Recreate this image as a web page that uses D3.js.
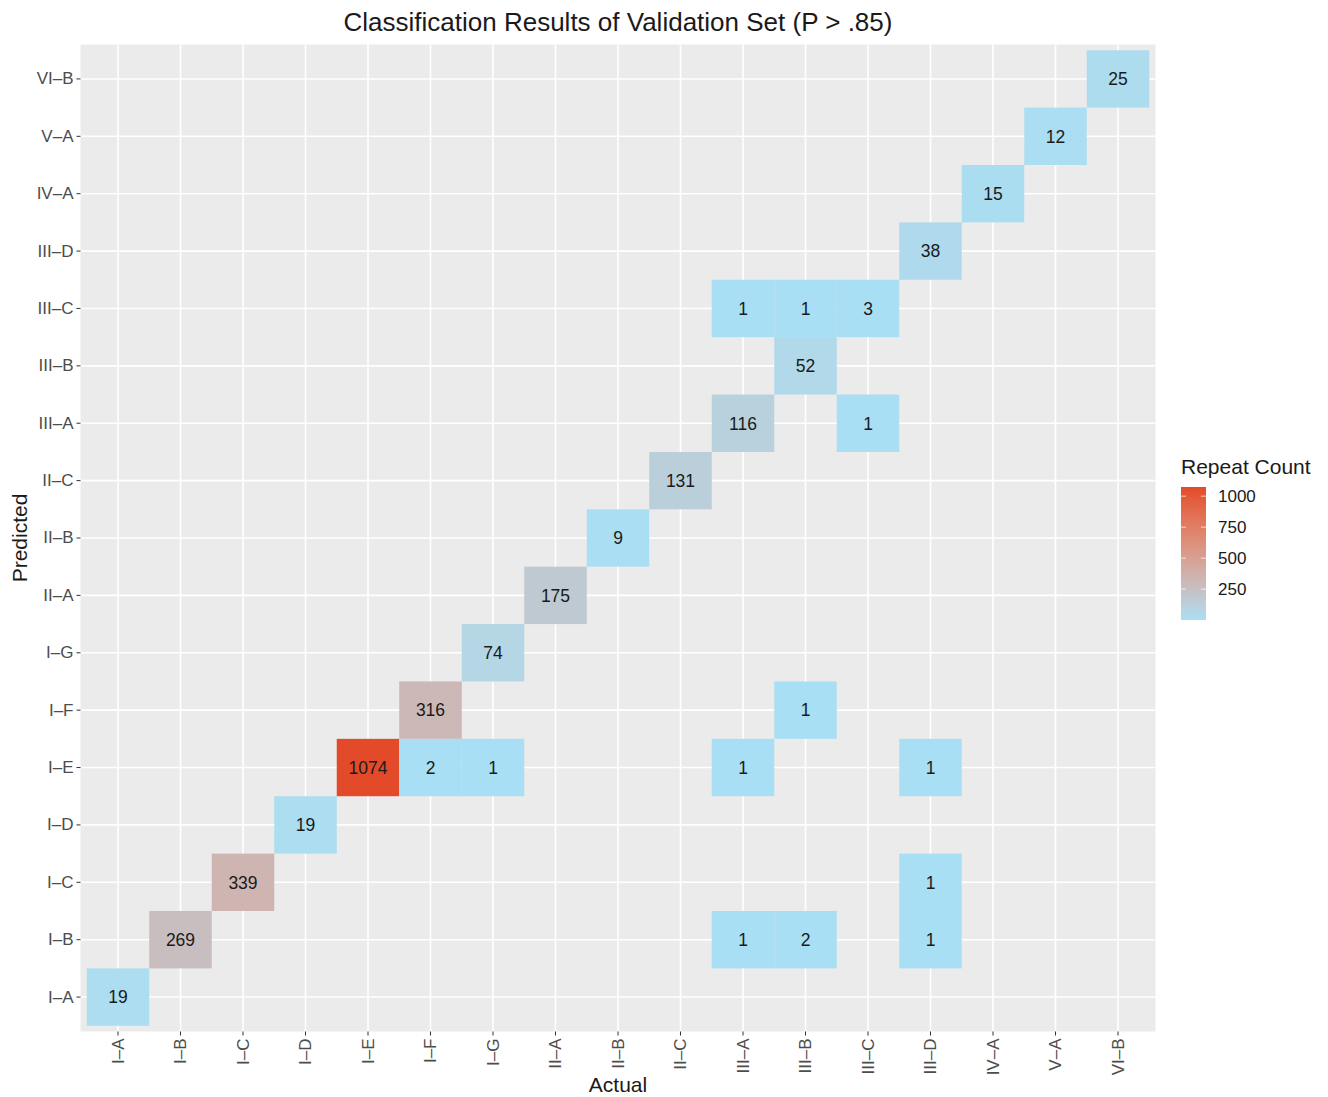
<!DOCTYPE html>
<html>
<head>
<meta charset="utf-8">
<script src="https://cdn.jsdelivr.net/npm/d3@7"></script>
<style>
  body { margin: 0; background: #fff; }
  text { font-family: "Liberation Sans", Arial, sans-serif; }
</style>
</head>
<body>
<div id="chart"></div>
<script>
const categories = ['I–A', 'I–B', 'I–C', 'I–D', 'I–E', 'I–F', 'I–G', 'II–A', 'II–B', 'II–C',
  'III–A', 'III–B', 'III–C', 'III–D', 'IV–A', 'V–A', 'VI–B'];

// each tile: actual, predicted, count
const actual = ['I–A', 'I–B', 'I–C', 'I–D', 'I–E', 'I–F', 'I–G', 'III–A', 'III–D', 'I–F', 'III–B', 'I–G',
  'II–A', 'II–B', 'II–C', 'III–A', 'III–C', 'III–B', 'III–A', 'III–B', 'III–C', 'III–D', 'IV–A', 'V–A', 'VI–B',
  'III–D', 'III–A', 'III–B', 'III–D'];
const predicted = ['I–A', 'I–B', 'I–C', 'I–D', 'I–E', 'I–E', 'I–E', 'I–E', 'I–E', 'I–F', 'I–F', 'I–G',
  'II–A', 'II–B', 'II–C', 'III–A', 'III–A', 'III–B', 'III–C', 'III–C', 'III–C', 'III–D', 'IV–A', 'V–A', 'VI–B',
  'I–C', 'I–B', 'I–B', 'I–B'];
const counts = [19, 269, 339, 19, 1074, 2, 1, 1, 1, 316, 1, 74,
  175, 9, 131, 116, 1, 52, 1, 1, 3, 38, 15, 12, 25,
  1, 1, 2, 1];
const legendTicks = [250, 500, 750, 1000];

const tiles = counts.map((c, i) => ({ x: actual[i], y: predicted[i], n: c }));

const width = 1328, height = 1097;
const panel = { left: 80.5, right: 1155.5, top: 44.5, bottom: 1031.5 };

const svg = d3.select('#chart').append('svg')
  .attr('width', width)
  .attr('height', height);

// ggplot style discrete scale: 0.6 unit padding on each side
const xScale = d3.scaleBand()
  .domain(categories)
  .range([panel.left, panel.right])
  .paddingInner(0)
  .paddingOuter(0.1);
const yScale = d3.scaleBand()
  .domain(categories)
  .range([panel.bottom, panel.top])
  .paddingInner(0)
  .paddingOuter(0.1);

const extent = d3.extent(counts);
const color = d3.scaleLinear()
  .domain(extent)
  .range(['#a9dff4', '#e34a2a'])
  .interpolate(d3.interpolateLab);

// panel background
svg.append('rect')
  .attr('x', panel.left)
  .attr('y', panel.top)
  .attr('width', panel.right - panel.left)
  .attr('height', panel.bottom - panel.top)
  .attr('fill', '#ebebeb');

const xc = d => xScale(d) + xScale.bandwidth() / 2;
const yc = d => yScale(d) + yScale.bandwidth() / 2;

// grid lines
svg.append('g').selectAll('line')
  .data(categories).join('line')
  .attr('x1', xc).attr('x2', xc)
  .attr('y1', panel.top).attr('y2', panel.bottom)
  .attr('stroke', '#fff').attr('stroke-width', 1.6);
svg.append('g').selectAll('line')
  .data(categories).join('line')
  .attr('y1', yc).attr('y2', yc)
  .attr('x1', panel.left).attr('x2', panel.right)
  .attr('stroke', '#fff').attr('stroke-width', 1.6);

// tiles
svg.append('g').selectAll('rect')
  .data(tiles).join('rect')
  .attr('x', d => xScale(d.x))
  .attr('y', d => yScale(d.y))
  .attr('width', xScale.bandwidth())
  .attr('height', yScale.bandwidth())
  .attr('fill', d => color(d.n));

svg.append('g').selectAll('text')
  .data(tiles).join('text')
  .attr('x', d => xc(d.x))
  .attr('y', d => yc(d.y))
  .attr('dy', '0.36em')
  .attr('text-anchor', 'middle')
  .attr('font-size', 17.5)
  .attr('fill', '#1a1a1a')
  .text(d => d.n);

// axes
const xAxis = svg.append('g')
  .attr('transform', `translate(0,${panel.bottom})`)
  .call(d3.axisBottom(xScale).tickSize(4).tickPadding(3));
xAxis.selectAll('text')
  .attr('transform', 'rotate(-90)')
  .attr('text-anchor', 'end')
  .attr('x', -7)
  .attr('y', 0)
  .attr('dy', '0.35em');

const yAxis = svg.append('g')
  .attr('transform', `translate(${panel.left},0)`)
  .call(d3.axisLeft(yScale).tickSize(4).tickPadding(3));

[xAxis, yAxis].forEach(ax => {
  ax.select('.domain').remove();
  ax.selectAll('.tick line').attr('stroke', '#333').attr('stroke-width', 1);
  ax.selectAll('.tick text')
    .attr('font-size', 17)
    .attr('fill', '#4d4d4d')
    .style('font-family', '"Liberation Sans", Arial, sans-serif');
});

// titles
svg.append('text')
  .attr('x', (panel.left + panel.right) / 2)
  .attr('y', 31)
  .attr('text-anchor', 'middle')
  .attr('font-size', 26)
  .attr('fill', '#1a1a1a')
  .text('Classification Results of Validation Set (P > .85)');

svg.append('text')
  .attr('x', (panel.left + panel.right) / 2)
  .attr('y', 1092)
  .attr('text-anchor', 'middle')
  .attr('font-size', 21)
  .attr('fill', '#1a1a1a')
  .text('Actual');

svg.append('text')
  .attr('transform', `translate(27,${(panel.top + panel.bottom) / 2}) rotate(-90)`)
  .attr('text-anchor', 'middle')
  .attr('font-size', 21)
  .attr('fill', '#1a1a1a')
  .text('Predicted');

// legend
const legend = { x: 1181, top: 487, bottom: 620, w: 25 };
const lScale = d3.scaleLinear().domain(extent).range([legend.bottom, legend.top]);

const defs = svg.append('defs');
const grad = defs.append('linearGradient')
  .attr('id', 'legend-grad')
  .attr('x1', 0).attr('x2', 0).attr('y1', 1).attr('y2', 0);
d3.range(0, 1.0001, 0.1).forEach(t => {
  grad.append('stop')
    .attr('offset', t)
    .attr('stop-color', color(extent[0] + t * (extent[1] - extent[0])));
});

svg.append('text')
  .attr('x', legend.x)
  .attr('y', 474)
  .attr('font-size', 21)
  .attr('fill', '#1a1a1a')
  .text('Repeat Count');

svg.append('rect')
  .attr('x', legend.x)
  .attr('y', legend.top)
  .attr('width', legend.w)
  .attr('height', legend.bottom - legend.top)
  .attr('fill', 'url(#legend-grad)');

const lt = svg.append('g');
legendTicks.forEach(v => {
  const y = lScale(v);
  lt.append('line')
    .attr('x1', legend.x).attr('x2', legend.x + 5)
    .attr('y1', y).attr('y2', y)
    .attr('stroke', '#fff').attr('stroke-opacity', 0.7);
  lt.append('line')
    .attr('x1', legend.x + legend.w - 5).attr('x2', legend.x + legend.w)
    .attr('y1', y).attr('y2', y)
    .attr('stroke', '#fff').attr('stroke-opacity', 0.7);
  lt.append('text')
    .attr('x', legend.x + legend.w + 12)
    .attr('y', y)
    .attr('dy', '0.35em')
    .attr('font-size', 17)
    .attr('fill', '#1a1a1a')
    .text(v);
});
</script>
</body>
</html>
